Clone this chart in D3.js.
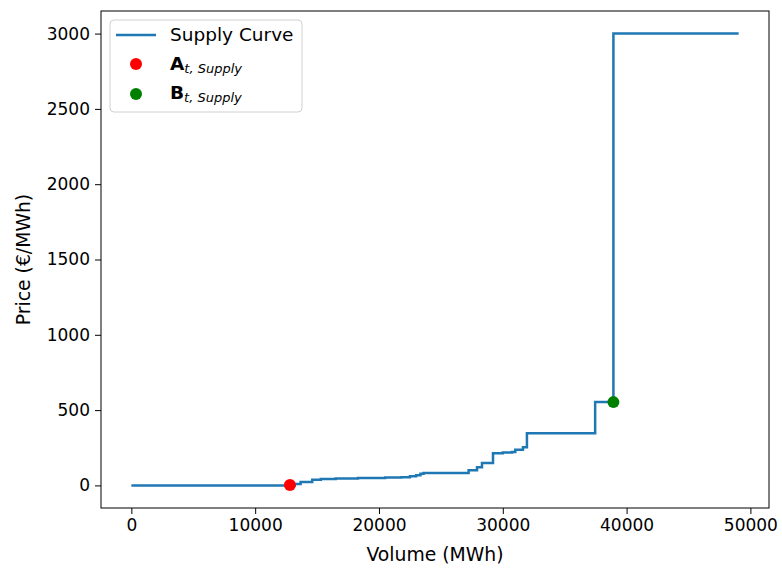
<!DOCTYPE html>
<html>
<head>
<meta charset="utf-8">
<script src="https://cdn.jsdelivr.net/npm/d3@7"></script>
<style>
  body { margin: 0; background: #fff; }
  text { font-family: "DejaVu Sans", sans-serif; }
</style>
</head>
<body>
<div id="chart"></div>
<script>
// Data: supply curve (step after), volume in MWh, price in EUR/MWh
const volumes = [0, 13200, 13670, 14610, 15300, 16500, 18300, 20500, 21800, 22500, 23000, 23350, 23600,
  27240, 27920, 28320, 29210, 30000, 30740, 31010, 31630, 31950, 37460, 38935, 49050]
const prices = [0, 10, 22, 38, 43, 46, 50, 52, 55, 60, 68, 78, 83,
  100, 121, 148, 214, 218, 222, 237, 254, 347, 553, 3000, 3000]
const pointA = [12806, 3]
const pointB = [38935, 553]
const xTicks = [0, 10000, 20000, 30000, 40000, 50000]
const yTicks = [0, 500, 1000, 1500, 2000, 2500, 3000]

// Dimensions
const dims = { width: 782, height: 569, left: 101, right: 769, top: 11, bottom: 508 }
const fs = 17
const labelFs = 18.8

const svg = d3.select('#chart')
  .append('svg')
    .attr('width', dims.width)
    .attr('height', dims.height)

// Scales
const x = d3.scaleLinear()
  .domain([-2452, 51502])
  .range([dims.left, dims.right])
const y = d3.scaleLinear()
  .domain([-150, 3150])
  .range([dims.bottom, dims.top])

// Axes
const xAxis = svg.append('g')
  .attr('transform', `translate(0,${dims.bottom})`)
  .call(d3.axisBottom(x).tickValues(xTicks).tickSize(6).tickPadding(5).tickFormat(d3.format('d')))
const yAxis = svg.append('g')
  .attr('transform', `translate(${dims.left},0)`)
  .call(d3.axisLeft(y).tickValues(yTicks).tickSize(6).tickPadding(5).tickFormat(d3.format('d')))

;[xAxis, yAxis].forEach(a => {
  a.select('.domain').remove()
  a.selectAll('line').attr('stroke', '#000').attr('stroke-width', 1)
  a.selectAll('text').attr('font-size', fs).attr('fill', '#000').style('font-family', 'DejaVu Sans')
})

svg.append('rect')
  .attr('x', dims.left)
  .attr('y', dims.top)
  .attr('width', dims.right - dims.left)
  .attr('height', dims.bottom - dims.top)
  .attr('fill', 'none')
  .attr('stroke', '#000')
  .attr('stroke-width', 1)

// Labels
svg.append('text')
  .attr('x', (dims.left + dims.right) / 2)
  .attr('y', 561)
  .attr('text-anchor', 'middle')
  .attr('font-size', labelFs)
  .text('Volume (MWh)')
svg.append('text')
  .attr('transform', `translate(30,${(dims.top + dims.bottom) / 2}) rotate(-90)`)
  .attr('text-anchor', 'middle')
  .attr('font-size', labelFs)
  .text('Price (€/MWh)')

// Curve
const curve = volumes.map((v, i) => [v, prices[i]])
const line = d3.line()
  .x(d => x(d[0]))
  .y(d => y(d[1]))
  .curve(d3.curveStepAfter)

svg.append('path')
  .datum(curve)
  .attr('d', line)
  .attr('fill', 'none')
  .attr('stroke', '#1f77b4')
  .attr('stroke-width', 2.5)

svg.append('circle')
  .attr('cx', x(pointA[0])).attr('cy', y(pointA[1])).attr('r', 6).attr('fill', 'red')
svg.append('circle')
  .attr('cx', x(pointB[0])).attr('cy', y(pointB[1])).attr('r', 6).attr('fill', 'green')

// Legend
const lg = svg.append('g')
lg.append('rect')
  .attr('x', 110).attr('y', 20).attr('width', 192).attr('height', 92)
  .attr('rx', 4)
  .attr('fill', 'rgba(255,255,255,0.8)')
  .attr('stroke', '#d0d0d0')
lg.append('line')
  .attr('x1', 116).attr('x2', 156).attr('y1', 35).attr('y2', 35)
  .attr('stroke', '#1f77b4').attr('stroke-width', 2.5)
lg.append('text')
  .attr('x', 170).attr('y', 41).attr('font-size', 18.5)
  .text('Supply Curve')
lg.append('circle').attr('cx', 136).attr('cy', 64).attr('r', 6).attr('fill', 'red')
lg.append('circle').attr('cx', 136).attr('cy', 94).attr('r', 6).attr('fill', 'green')

const sub = [['A', 70], ['B', 99]]
sub.forEach(([letter, yy]) => {
  const t = lg.append('text').attr('x', 170).attr('y', yy).attr('font-size', 18.5)
  t.append('tspan').attr('font-weight', 'bold').text(letter)
  t.append('tspan').attr('font-size', 13).attr('font-style', 'italic').attr('dy', 3).text('t, Supply')
})
</script>
</body>
</html>
